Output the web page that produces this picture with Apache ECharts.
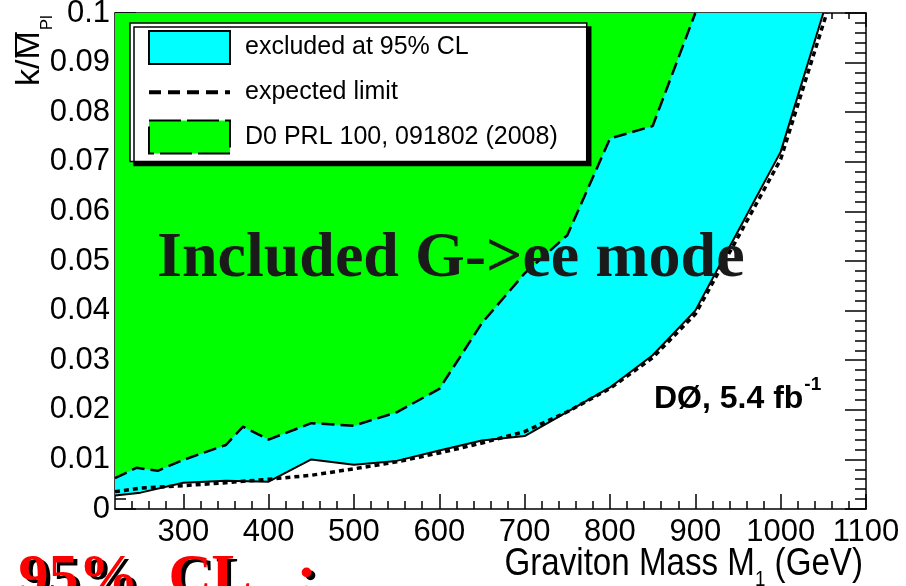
<!DOCTYPE html>
<html>
<head>
<meta charset="utf-8">
<title>Graviton limit</title>
<script src="https://cdn.jsdelivr.net/npm/echarts@6/dist/echarts.min.js"></script>
<style>
  html, body { margin: 0; padding: 0; background: #fff; }
  #chart { width: 906px; height: 586px; }
</style>
</head>
<body>
<div id="chart"></div>
<script>
// observed 95% CL limit (lower edge of the cyan band)
const observedMass = [220, 250, 300, 350, 400, 450, 500, 550, 600, 650, 700, 750, 800, 850, 900, 950, 1000, 1050];
const observedK = [0.0027, 0.0033, 0.0053, 0.0057, 0.0055, 0.0100, 0.0089, 0.0097, 0.0118, 0.0138, 0.0147, 0.0196, 0.0245, 0.0310, 0.0400, 0.0560, 0.0720, 0.1000];

// expected limit (dotted)
const expectedMass = [220, 250, 300, 350, 400, 450, 500, 550, 600, 650, 700, 750, 800, 850, 900, 950, 1000, 1054];
const expectedK = [0.0035, 0.0042, 0.0047, 0.0053, 0.0060, 0.0068, 0.0081, 0.0095, 0.0113, 0.0133, 0.0156, 0.0196, 0.0243, 0.0305, 0.0393, 0.0548, 0.0705, 0.1000];

// D0 PRL 100, 091802 (2008) limit (dashed, green above)
const d0Mass = [220, 245, 270, 300, 350, 370, 400, 450, 500, 550, 600, 650, 700, 750, 800, 850, 900];
const d0K = [0.0062, 0.0083, 0.0077, 0.0099, 0.0129, 0.0166, 0.0140, 0.0173, 0.0168, 0.0195, 0.0242, 0.0375, 0.0475, 0.0552, 0.0747, 0.0772, 0.1000];

const xMajorTicks = [300, 400, 500, 600, 700, 800, 900, 1000, 1100];
const xMinorTicks = [];
for (let m = 240; m < 1100; m += 20) xMinorTicks.push(m);

const legendNames = ['excluded at 95% CL', 'expected limit', 'D0 PRL 100, 091802 (2008)'];

const SANS = '"Liberation Sans", Arial, Helvetica, sans-serif';
const SERIF = '"Liberation Serif", "Times New Roman", serif';

const measureCtx = document.createElement('canvas').getContext('2d');
function textWidth(str, size, weight, family) {
  measureCtx.font = (weight || 'normal') + ' ' + size + 'px ' + family;
  return measureCtx.measureText(str).width;
}

function pairs(xs, ys) {
  return xs.map((x, i) => [x, ys[i]]);
}

const chart = echarts.init(document.getElementById('chart'), null, {renderer: 'canvas'});

const black = {color: '#000', width: 1.5};
const none = 'rgba(0,0,0,0)';

function xAxisPart(position, ticks, len, showLine) {
  return {
    type: 'value', position: position, min: 220, max: 1100,
    axisLine: {show: showLine, onZero: false, lineStyle: black},
    axisTick: {show: true, inside: true, length: len, customValues: ticks, lineStyle: black},
    axisLabel: {show: false},
    splitLine: {show: false}
  };
}

function yAxisPart(position, showLabel) {
  return {
    type: 'value', position: position, min: 0, max: 0.1, interval: 0.01,
    axisLine: {show: true, onZero: false, lineStyle: black},
    axisTick: {show: true, inside: true, length: 21, lineStyle: black},
    minorTick: {show: true, splitNumber: 5, length: 11, lineStyle: black},
    axisLabel: {show: showLabel, fontFamily: SANS, fontSize: 31, color: '#000', margin: 5},
    splitLine: {show: false}
  };
}

const xBottom = xAxisPart('bottom', xMajorTicks, 15, true);
xBottom.axisLabel = {
  show: true, customValues: xMajorTicks, fontFamily: SANS, fontSize: 31, color: '#000', margin: 8,
  formatter: (v) => String(v)
};

// x-axis title pieces (condensed sans)
const xtSize = 39, xtSub = 22, xtScale = 0.85;
const wA = textWidth('Graviton Mass M', xtSize, 'normal', SANS);
const wB = textWidth('1', xtSub, 'normal', SANS);
const wC = textWidth(' (GeV)', xtSize, 'normal', SANS);
const xtLeft = 863 - (wA + wB + wC) * xtScale;

// y-axis title pieces (rotated)
const ytSize = 34;
const wK = textWidth('k/', ytSize, 'normal', SANS);
const wKM = textWidth('k/M', ytSize, 'normal', SANS);

const d0Text = 'DØ, 5.4 fb';
const wD0 = textWidth(d0Text, 32, 'bold', SANS);

const clText = '95%  CL   :';

chart.setOption({
  animation: false,
  backgroundColor: '#fff',
  grid: {left: 115, right: 40, top: 13, bottom: 77, containLabel: false, outerBoundsMode: 'none'},
  legend: {
    orient: 'vertical', left: 130, top: 23,
    padding: [7, 29, 7, 17],
    itemWidth: 81, itemHeight: 33, itemGap: 14,
    backgroundColor: '#fff', borderColor: '#000', borderWidth: 1.5, borderRadius: 0,
    shadowColor: '#000', shadowBlur: 0, shadowOffsetX: 4, shadowOffsetY: 4,
    selectedMode: false,
    textStyle: {fontFamily: SANS, fontSize: 25, color: '#000', padding: [0, 0, 0, 10]},
    data: [
      {name: legendNames[0], icon: 'rect', itemStyle: {color: '#00ffff', borderColor: '#000', borderWidth: 2}},
      {name: legendNames[1], itemStyle: {color: none, borderColor: none, borderWidth: 0},
        lineStyle: {color: '#000', width: 4, type: [12, 7]}},
      {name: legendNames[2], icon: 'rect', itemStyle: {color: '#00ff00', borderColor: '#000', borderWidth: 2, borderType: [32, 6]}}
    ]
  },
  xAxis: [
    xBottom,
    xAxisPart('bottom', xMinorTicks, 8, false),
    xAxisPart('top', xMajorTicks, 14, true),
    xAxisPart('top', xMinorTicks, 6, false)
  ],
  yAxis: [
    yAxisPart('left', true),
    yAxisPart('right', false)
  ],
  series: [
    {
      name: legendNames[0], type: 'line', silent: true, symbol: 'none',
      data: pairs(observedMass, observedK),
      lineStyle: {color: '#000', width: 2},
      itemStyle: {color: '#00ffff'},
      areaStyle: {color: '#00ffff', opacity: 1, origin: 'end'}
    },
    {
      name: legendNames[2], type: 'line', silent: true, symbol: 'none',
      data: pairs(d0Mass, d0K),
      lineStyle: {color: '#000', width: 2.5, type: [13, 6]},
      itemStyle: {color: '#00ff00'},
      areaStyle: {color: '#00ff00', opacity: 1, origin: 'end'}
    },
    {
      name: legendNames[1], type: 'line', silent: true, symbol: 'none', showSymbol: false,
      data: pairs(expectedMass, expectedK),
      lineStyle: {color: '#000', width: 3.5, type: [5, 4]},
      itemStyle: {color: '#000'}
    }
  ],
  graphic: [
    // y-axis title k / M-bar _Pl, rotated
    {
      type: 'group', x: 42, y: 86, rotation: Math.PI / 2, z: 100,
      children: [
        {type: 'text', x: 0, y: -12, style: {text: 'k/M', fontFamily: SANS, fontSize: ytSize, fill: '#000', verticalAlign: 'middle'}},
        {type: 'line', shape: {x1: wK + 2, y1: -26, x2: wKM - 1, y2: -26}, style: {stroke: '#000', lineWidth: 2}},
        {type: 'text', x: wKM + 1, y: 5, style: {text: 'Pl', fontFamily: SANS, fontSize: 17, fill: '#000', verticalAlign: 'middle'}}
      ]
    },
    // x-axis title
    {
      type: 'group', x: xtLeft, y: 564, scaleX: xtScale, z: 100,
      children: [
        {type: 'text', x: 0, y: 0, style: {text: 'Graviton Mass M', fontFamily: SANS, fontSize: xtSize, fill: '#000', verticalAlign: 'middle'}},
        {type: 'text', x: wA, y: 16, style: {text: '1', fontFamily: SANS, fontSize: xtSub, fill: '#000', verticalAlign: 'middle'}},
        {type: 'text', x: wA + wB, y: 0, style: {text: ' (GeV)', fontFamily: SANS, fontSize: xtSize, fill: '#000', verticalAlign: 'middle'}}
      ]
    },
    {
      type: 'text', x: 157, y: 259, z: 100,
      style: {text: 'Included G->ee mode', fontFamily: SERIF, fontWeight: 'bold', fontSize: 64, fill: '#1a1a1a', verticalAlign: 'middle'}
    },
    {
      type: 'text', x: 654, y: 399, z: 100,
      style: {text: d0Text, fontFamily: SANS, fontWeight: 'bold', fontSize: 32, fill: '#000', verticalAlign: 'middle'}
    },
    {
      type: 'text', x: 654 + wD0 + 1, y: 385, z: 100,
      style: {text: '-1', fontFamily: SANS, fontWeight: 'bold', fontSize: 19, fill: '#000', verticalAlign: 'middle'}
    },
    // red caption with black drop shadow, cut by the bottom edge
    {
      type: 'text', x: 22.5, y: 582, z: 100,
      style: {text: clText, fontFamily: SERIF, fontWeight: 'bold', fontSize: 60, fill: '#000', verticalAlign: 'middle'}
    },
    {
      type: 'text', x: 18.5, y: 579, z: 101,
      style: {text: clText, fontFamily: SERIF, fontWeight: 'bold', fontSize: 60, fill: '#ff0000', verticalAlign: 'middle'}
    }
  ]
});
</script>
</body>
</html>
